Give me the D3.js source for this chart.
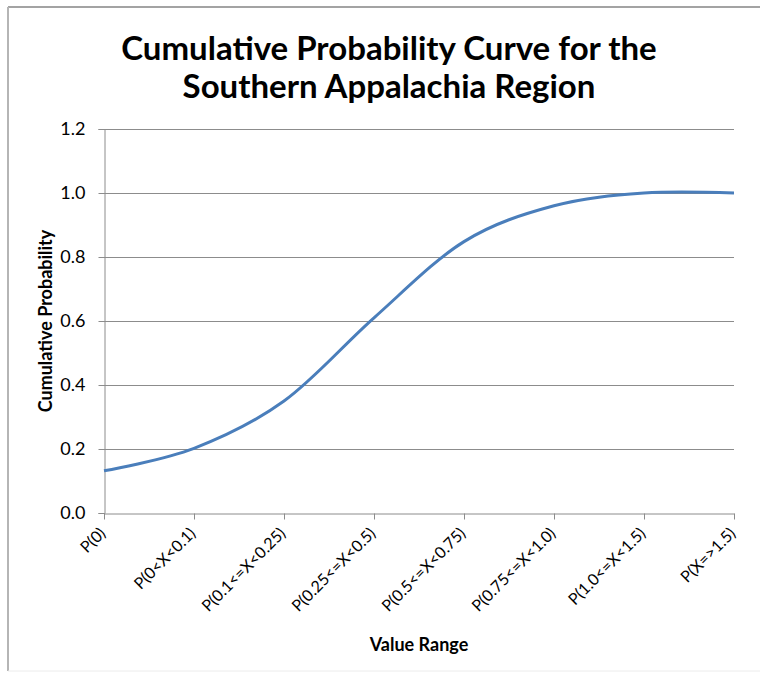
<!DOCTYPE html>
<html>
<head>
<meta charset="utf-8">
<script src="https://cdn.jsdelivr.net/npm/d3@7"></script>
<style>
  html, body { margin: 0; padding: 0; background: #fff; }
  svg { display: block; }
</style>
</head>
<body>
<svg id="chart" width="760" height="675"></svg>
<script>
// Value ranges (categories) and cumulative probability at each range
const categories = [
  "P(0)",
  "P(0<X<0.1)",
  "P(0.1<=X<0.25)",
  "P(0.25<=X<0.5)",
  "P(0.5<=X<0.75)",
  "P(0.75<=X<1.0)",
  "P(1.0<=X<1.5)",
  "P(X=>1.5)"
];
const cumulative = [0.132, 0.202, 0.35, 0.61, 0.848, 0.96, 1.0, 1.0];
const yTicks = [0, 0.2, 0.4, 0.6, 0.8, 1.0, 1.2];
const titleLines = ["Cumulative Probability Curve for the", "Southern Appalachia Region"];

const svg = d3.select("#chart");
const W = 760, H = 675;
const margin = { left: 104, right: 26, top: 129, bottom: 162 };

// Chart frame (only the left/top edges fall inside the picture)
svg.append("rect").attr("x", 0).attr("y", 0).attr("width", W).attr("height", H).attr("fill", "#fff");
svg.append("line").attr("x1", 8).attr("x2", W).attr("y1", 7).attr("y2", 7)
  .attr("stroke", "#a3a3a3").attr("stroke-width", 2);
svg.append("line").attr("x1", 8).attr("x2", 8).attr("y1", 7).attr("y2", 671)
  .attr("stroke", "#b5b5b5").attr("stroke-width", 2);
svg.append("line").attr("x1", 8).attr("x2", W).attr("y1", 671).attr("y2", 671)
  .attr("stroke", "#ececec").attr("stroke-width", 1);

const x = d3.scalePoint().domain(categories).range([margin.left, W - margin.right]);
const y = d3.scaleLinear().domain([0, 1.2]).range([H - margin.bottom, margin.top]);

const font = "Lato, 'Open Sans', sans-serif";

// Horizontal gridlines
svg.append("g").selectAll("line").data(yTicks.filter(d => d > 0)).join("line")
  .attr("x1", margin.left).attr("x2", W - margin.right)
  .attr("y1", d => Math.round(y(d)) + 0.5).attr("y2", d => Math.round(y(d)) + 0.5)
  .attr("stroke", "#8c8c8c").attr("stroke-width", 1);

// Y axis
const yAxis = svg.append("g")
  .attr("transform", `translate(${margin.left + 0.5},0)`)
  .call(d3.axisLeft(y).tickValues(yTicks).tickFormat(d3.format(".1f")).tickSize(6).tickPadding(13));
yAxis.select(".domain").attr("stroke", "#8c8c8c");
yAxis.selectAll(".tick line").attr("stroke", "#8c8c8c");
yAxis.selectAll(".tick text").attr("font-family", font).attr("font-size", 18).attr("fill", "#000");

// X axis
const xAxis = svg.append("g")
  .attr("transform", `translate(0,${Math.round(y(0)) + 0.5})`)
  .call(d3.axisBottom(x).tickSize(6).tickSizeOuter(0));
xAxis.select(".domain").attr("stroke", "#8c8c8c");
xAxis.selectAll(".tick line").attr("stroke", "#8c8c8c");
xAxis.selectAll(".tick text")
  .attr("font-family", font).attr("font-size", 16).attr("fill", "#000")
  .attr("text-anchor", "end")
  .attr("dy", "0.35em")
  .attr("transform", "translate(-2,17) rotate(-45)")
  .attr("x", 0).attr("y", 0);

// Smoothed cumulative curve
const line = d3.line()
  .x((d, i) => x(categories[i]))
  .y(d => y(d))
  .curve(d3.curveCardinal.tension(0));
svg.append("path").datum(cumulative)
  .attr("d", line)
  .attr("fill", "none")
  .attr("stroke", "#4a7ebb")
  .attr("stroke-width", 3)
  .attr("stroke-linejoin", "round");

// Title
svg.append("g").selectAll("text").data(titleLines).join("text")
  .attr("x", 389).attr("y", (d, i) => 60 + i * 38)
  .attr("text-anchor", "middle")
  .attr("font-family", font).attr("font-weight", "bold").attr("font-size", 33)
  .attr("fill", "#000")
  .text(d => d);

// Axis titles
svg.append("text")
  .attr("transform", `translate(52,${(y(0) + y(1.2)) / 2}) rotate(-90)`)
  .attr("text-anchor", "middle")
  .attr("font-family", font).attr("font-weight", "bold").attr("font-size", 18)
  .text("Cumulative Probability");

svg.append("text")
  .attr("x", 419).attr("y", 651)
  .attr("text-anchor", "middle")
  .attr("font-family", font).attr("font-weight", "bold").attr("font-size", 18)
  .text("Value Range");
</script>
</body>
</html>
